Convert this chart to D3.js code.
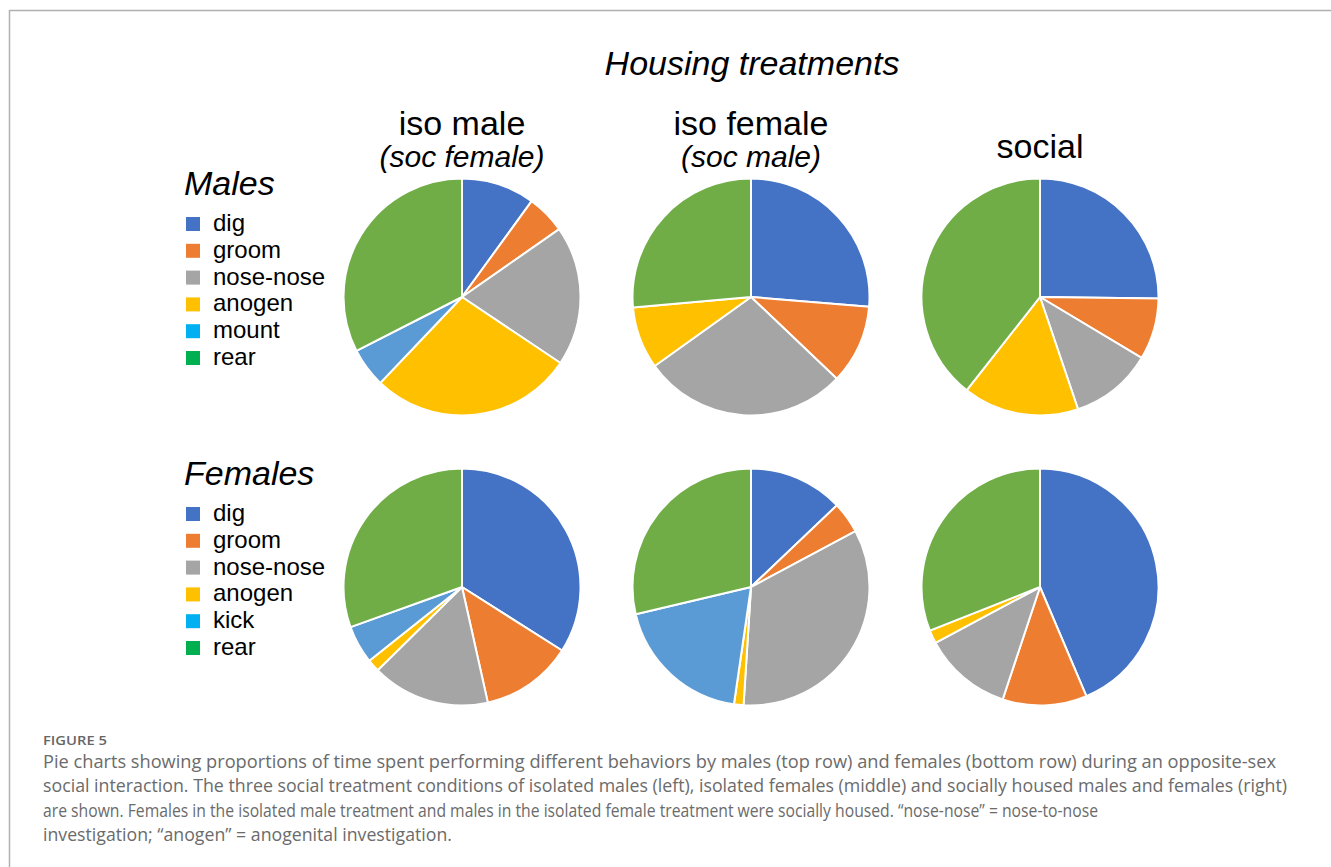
<!DOCTYPE html>
<html>
<head>
<meta charset="utf-8">
<script src="https://cdn.jsdelivr.net/npm/d3@7"></script>
<style>
  html, body { margin: 0; padding: 0; background: #fff; }
  svg { display: block; }
</style>
</head>
<body>
<svg id="fig" width="1331" height="867"></svg>
<script>
// Behaviour categories (legend order = slice order, clockwise from 12 o'clock)
const maleBehaviors = ["dig", "groom", "nose-nose", "anogen", "mount", "rear"];
const femaleBehaviors = ["dig", "groom", "nose-nose", "anogen", "kick", "rear"];
const treatments = ["iso male", "iso female", "social"];
const treatmentSubtitles = ["(soc female)", "(soc male)", ""];
const rowTitles = ["Males", "Females"];

// Percent of time per behaviour, males (top row)
const malesIsoMale = [10.0, 5.3, 19.1, 27.7, 5.4, 32.5];
const malesIsoFemale = [26.3, 10.8, 28.0, 8.5, 0, 26.4];
const malesSocial = [25.2, 8.4, 11.2, 15.8, 0, 39.4];

// Percent of time per behaviour, females (bottom row)
const femalesIsoMale = [34.0, 12.5, 16.1, 1.7, 5.2, 30.5];
const femalesIsoFemale = [12.9, 4.3, 33.8, 1.3, 19.0, 28.7];
const femalesSocial = [43.6, 11.5, 12.1, 1.8, 0, 31.0];

// Slice colours and legend swatch colours
const sliceColors = ["#4472C4", "#ED7D31", "#A5A5A5", "#FFC000", "#5B9BD5", "#70AD47"];
const legendColors = ["#4472C4", "#ED7D31", "#A5A5A5", "#FFC000", "#00B0F0", "#00B050"];

const captionTitle = "FIGURE 5";
const captionLines = [
  "Pie charts showing proportions of time spent performing different behaviors by males (top row) and females (bottom row) during an opposite-sex",
  "social interaction. The three social treatment conditions of isolated males (left), isolated females (middle) and socially housed males and females (right)",
  "are shown. Females in the isolated male treatment and males in the isolated female treatment were socially housed. \u201Cnose-nose\u201D = nose-to-nose",
  "investigation; \u201Canogen\u201D = anogenital investigation."
];
// Set width of each caption line (the caption face is a condensed one)
const captionWidths = [1233, 1244, 1055, 409];

const rows = [
  { title: rowTitles[0], labels: maleBehaviors, sets: [malesIsoMale, malesIsoFemale, malesSocial] },
  { title: rowTitles[1], labels: femaleBehaviors, sets: [femalesIsoMale, femalesIsoFemale, femalesSocial] }
];

const svg = d3.select("#fig");
const FONT = "'Liberation Sans', Arial, sans-serif";

// Frame lines along the top and left edges
svg.append("line").attr("x1", 9.5).attr("x2", 1331).attr("y1", 10.5).attr("y2", 10.5)
  .attr("stroke", "#b0b0b0").attr("stroke-width", 1.5);
svg.append("line").attr("x1", 9.5).attr("x2", 9.5).attr("y1", 10).attr("y2", 867)
  .attr("stroke", "#b0b0b0").attr("stroke-width", 1.5);

// Layout
const colX = d3.scalePoint().domain(treatments).range([462, 1040]);
const rowY = d3.scalePoint().domain(rowTitles).range([297, 587]);
const radius = 118.5;

svg.append("text")
  .attr("x", 752).attr("y", 75)
  .attr("text-anchor", "middle")
  .attr("font-family", FONT).attr("font-style", "italic").attr("font-size", 34)
  .text("Housing treatments");

// Column headings
treatments.forEach((t, i) => {
  const hasSub = treatmentSubtitles[i] !== "";
  svg.append("text")
    .attr("x", colX(t)).attr("y", hasSub ? 135 : 158)
    .attr("text-anchor", "middle")
    .attr("font-family", FONT).attr("font-size", 34)
    .text(t);
  if (hasSub) {
    svg.append("text")
      .attr("x", colX(t)).attr("y", 167)
      .attr("text-anchor", "middle")
      .attr("font-family", FONT).attr("font-style", "italic").attr("font-size", 30)
      .text(treatmentSubtitles[i]);
  }
});

const pie = d3.pie().sort(null).value(d => d);
const arc = d3.arc().innerRadius(0).outerRadius(radius);

rows.forEach(row => {
  const cy = rowY(row.title);

  // Row title and legend
  const legendTop = cy - 102;
  svg.append("text")
    .attr("x", 184).attr("y", legendTop)
    .attr("font-family", FONT).attr("font-style", "italic").attr("font-size", 34)
    .text(row.title);

  const item = svg.append("g").selectAll("g")
    .data(row.labels)
    .join("g")
    .attr("transform", (d, i) => `translate(186, ${legendTop + 22 + i * 26.8})`);
  item.append("rect")
    .attr("x", 0).attr("y", 0).attr("width", 14).attr("height", 14)
    .attr("fill", (d, i) => legendColors[i]);
  item.append("text")
    .attr("x", 27).attr("y", 14)
    .attr("font-family", FONT).attr("font-size", 24)
    .text(d => d);

  // Pies
  row.sets.forEach((vals, j) => {
    const g = svg.append("g")
      .attr("transform", `translate(${colX(treatments[j])}, ${cy})`);
    g.selectAll("path")
      .data(pie(vals).filter(d => d.value > 0))
      .join("path")
      .attr("d", arc)
      .attr("fill", d => sliceColors[d.index])
      .attr("stroke", "#fff")
      .attr("stroke-width", 2)
      .attr("stroke-linejoin", "round");
  });
});

// Caption
const CAP_FONT = "'Open Sans', 'Noto Sans', sans-serif";
svg.append("text")
  .attr("x", 43).attr("y", 745)
  .attr("font-family", CAP_FONT).attr("font-size", 12.5).attr("font-weight", 600)
  .attr("fill", "#666")
  .attr("textLength", 64).attr("lengthAdjust", "spacingAndGlyphs")
  .text(captionTitle);

svg.append("g").selectAll("text")
  .data(captionLines)
  .join("text")
  .attr("x", 43)
  .attr("y", (d, i) => 768 + i * 24.3)
  .attr("font-family", CAP_FONT).attr("font-size", 18)
  .attr("fill", "#6b6b6b")
  .attr("textLength", (d, i) => captionWidths[i])
  .attr("lengthAdjust", "spacingAndGlyphs")
  .text(d => d);
</script>
</body>
</html>
